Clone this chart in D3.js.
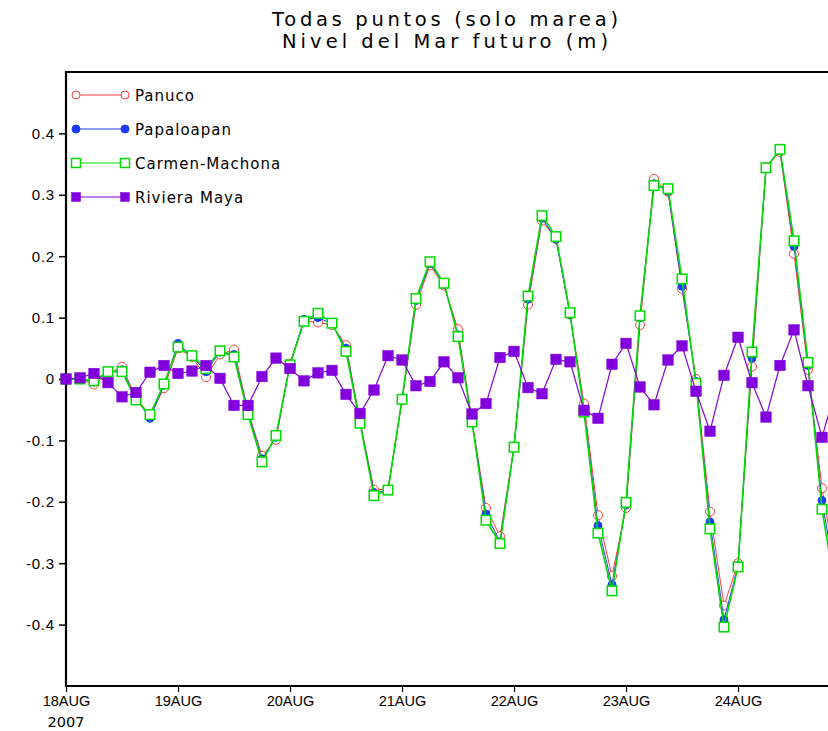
<!DOCTYPE html>
<html>
<head>
<meta charset="utf-8">
<script src="https://cdn.jsdelivr.net/npm/d3@7"></script>
<style>
  body { margin: 0; background: #fff; }
  svg { display: block; font-family: "DejaVu Sans", sans-serif; }
  .axis path, .axis line { stroke: #000; }
  .axis text { fill: #000; }
</style>
</head>
<body>
<div id="chart"></div>
<script>
// 1. DATA - 3-hourly values starting 18AUG2007 00Z
const startDate = new Date(Date.UTC(2007, 7, 18, 0));
const stepHours = 3;

const panuco = [0, 0, -0.009, 0.008, 0.020, -0.030, -0.060, -0.015, 0.050, 0.036,
  0.003, 0.040, 0.048, -0.052, -0.125, -0.099, 0.025, 0.095, 0.092, 0.088,
  0.055, -0.068, -0.180, -0.180, -0.035, 0.121, 0.185, 0.152, 0.081, -0.068,
  -0.210, -0.256, -0.110, 0.121, 0.258, 0.228, 0.105, -0.040, -0.222, -0.321,
  -0.210, 0.088, 0.326, 0.305, 0.147, 0.000, -0.216, -0.369, -0.300, 0.020,
  0.345, 0.370, 0.204, 0.015, -0.178, -0.31];

const papaloapan = [0, 0, -0.005, 0.010, 0.015, -0.032, -0.064, -0.010, 0.058, 0.037,
  0.012, 0.044, 0.040, -0.055, -0.130, -0.095, 0.024, 0.097, 0.100, 0.090,
  0.050, -0.070, -0.185, -0.182, -0.034, 0.128, 0.188, 0.154, 0.072, -0.069,
  -0.220, -0.265, -0.111, 0.130, 0.262, 0.228, 0.105, -0.050, -0.239, -0.335,
  -0.205, 0.100, 0.318, 0.306, 0.151, -0.004, -0.233, -0.392, -0.304, 0.034,
  0.345, 0.372, 0.216, 0.022, -0.198, -0.33];

const carmen = [0, 0, -0.003, 0.012, 0.012, -0.034, -0.058, -0.008, 0.052, 0.038,
  0.017, 0.046, 0.036, -0.058, -0.135, -0.092, 0.023, 0.094, 0.107, 0.091,
  0.045, -0.072, -0.190, -0.181, -0.033, 0.131, 0.191, 0.156, 0.069, -0.070,
  -0.230, -0.268, -0.111, 0.135, 0.266, 0.232, 0.108, -0.054, -0.251, -0.345,
  -0.201, 0.103, 0.315, 0.310, 0.163, -0.007, -0.244, -0.404, -0.306, 0.044,
  0.344, 0.374, 0.225, 0.027, -0.212, -0.35];

const rivieraMaya = [0, 0.002, 0.009, -0.006, -0.029, -0.022, 0.011, 0.022, 0.009, 0.013,
  0.022, 0.001, -0.043, -0.043, 0.004, 0.034, 0.017, -0.003, 0.010, 0.014,
  -0.025, -0.056, -0.018, 0.038, 0.031, -0.011, -0.004, 0.028, 0.002, -0.057,
  -0.040, 0.035, 0.045, -0.014, -0.024, 0.032, 0.028, -0.051, -0.064, 0.024,
  0.058, -0.013, -0.042, 0.031, 0.054, -0.020, -0.085, 0.006, 0.068, -0.006,
  -0.062, 0.022, 0.080, -0.011, -0.095, -0.015];

const seriesNames = ["Panuco", "Papaloapan", "Carmen-Machona", "Riviera Maya"];
const yTicks = [-0.4, -0.3, -0.2, -0.1, 0, 0.1, 0.2, 0.3, 0.4];
const xTickDays = [18, 19, 20, 21, 22, 23, 24];
const titleLines = ["Todas puntos (solo marea)", "Nivel del Mar futuro (m)"];

// 2. LAYOUT
const width = 828, height = 731;
const plotLeft = 66, plotTop = 72, plotBottom = 686;
const pxPerDay = 112;
const xEnd = new Date(Date.UTC(2007, 7, 25, 12));

const x = d3.scaleUtc()
  .domain([startDate, xEnd])
  .range([plotLeft, plotLeft + pxPerDay * 7.5]);
const y = d3.scaleLinear().domain([-0.5, 0.5]).range([plotBottom, plotTop]);

const styles = [
  { color: "rgb(250,60,60)", marker: "circle", fill: false, lw: 1 },
  { color: "rgb(30,60,255)", marker: "circle", fill: true, lw: 1 },
  { color: "rgb(0,220,0)", marker: "square", fill: false, lw: 1.6 },
  { color: "rgb(130,0,220)", marker: "square", fill: true, lw: 1.2 }
];
const allSeries = [panuco, papaloapan, carmen, rivieraMaya];

const svg = d3.select("#chart").append("svg")
  .attr("width", width)
  .attr("height", height);

// title
svg.selectAll("text.title").data(titleLines).join("text")
  .attr("class", "title")
  .attr("x", 445)
  .attr("y", (d, i) => 26 + i * 21.5)
  .attr("text-anchor", "middle")
  .attr("font-size", 19.5)
  .attr("textLength", (d, i) => i === 0 ? 346 : 326)
  .attr("lengthAdjust", "spacing")
  .text(d => d);

// --- AXES ---
const fmtY = v => v === 0 ? "0" : d3.format(".1f")(v).replace("\u2212", "-");
const yAxis = svg.append("g").attr("class", "axis")
  .attr("transform", `translate(${plotLeft},0)`)
  .call(d3.axisLeft(y).tickValues(yTicks).tickFormat(fmtY).tickSize(7).tickSizeOuter(0))
  .call(g => g.select(".domain").remove());
yAxis.selectAll("line").attr("stroke-width", 1.5);
yAxis.selectAll("text").attr("font-size", 15).attr("letter-spacing", 0.8).attr("x", -11);

const xAxis = svg.append("g").attr("class", "axis")
  .attr("transform", `translate(0,${plotBottom})`)
  .call(d3.axisBottom(x)
    .tickValues(xTickDays.map(d => new Date(Date.UTC(2007, 7, d))))
    .tickFormat(d => d3.utcFormat("%d%b")(d).toUpperCase()).tickSize(6).tickSizeOuter(0))
  .call(g => g.select(".domain").remove());
xAxis.selectAll("line").attr("stroke-width", 1.2);
xAxis.selectAll("text").attr("font-size", 14.5).attr("dy", "0.95em").attr("y", 6);
svg.append("text")
  .attr("x", x(startDate))
  .attr("y", 727)
  .attr("text-anchor", "middle")
  .attr("font-size", 14.5)
  .text("2007");

// frame
const plotRight = x(xEnd);
svg.append("path")
  .attr("d", `M${plotRight},${plotTop}H${plotLeft}V${plotBottom}H${plotRight}`)
  .attr("fill", "none").attr("stroke", "#000").attr("stroke-width", 2.2);

// --- LINES & MARKERS ---
function drawMarker(sel, st, size) {
  if (st.marker === "circle") {
    sel.append("circle").attr("r", size / 2)
      .attr("fill", st.fill ? st.color : "#fff")
      .attr("stroke", st.color).attr("stroke-width", 1);
  } else {
    sel.append("rect")
      .attr("x", -size / 2).attr("y", -size / 2)
      .attr("width", size).attr("height", size)
      .attr("fill", st.fill ? st.color : "#fff")
      .attr("stroke", st.color).attr("stroke-width", st.fill ? 0.5 : 1.5);
  }
}

const line = d3.line()
  .x((d, i) => x(d3.utcHour.offset(startDate, i * stepHours)))
  .y(d => y(d));

allSeries.forEach((vals, si) => {
  const st = styles[si];
  const grp = svg.append("g");
  grp.append("path")
    .attr("d", line(vals))
    .attr("fill", "none")
    .attr("stroke", st.color)
    .attr("stroke-width", st.lw);
  const size = st.marker === "circle" ? (st.fill ? 8 : 9) : (st.fill ? 10.5 : 9.5);
  grp.selectAll("g.pt").data(vals).join("g")
    .attr("class", "pt")
    .attr("transform", (d, i) => `translate(${x(d3.utcHour.offset(startDate, i * stepHours))},${y(d)})`)
    .each(function () { drawMarker(d3.select(this), st, size); });
});

// --- LEGEND ---
const legend = svg.append("g");
seriesNames.forEach((name, i) => {
  const st = styles[i];
  const ly = 95 + i * 34;
  const row = legend.append("g").attr("transform", `translate(0,${ly})`);
  row.append("line").attr("x1", 76).attr("x2", 125)
    .attr("stroke", st.color).attr("stroke-width", 1.2);
  const sz = st.marker === "circle" ? 8 : 9;
  [76, 125].forEach(px => {
    const m = row.append("g").attr("transform", `translate(${px},0)`);
    drawMarker(m, st, sz);
  });
  row.append("text").attr("x", 135).attr("y", 5.5)
    .attr("font-size", 15).attr("letter-spacing", 1)
    .text(name);
});
</script>
</body>
</html>
